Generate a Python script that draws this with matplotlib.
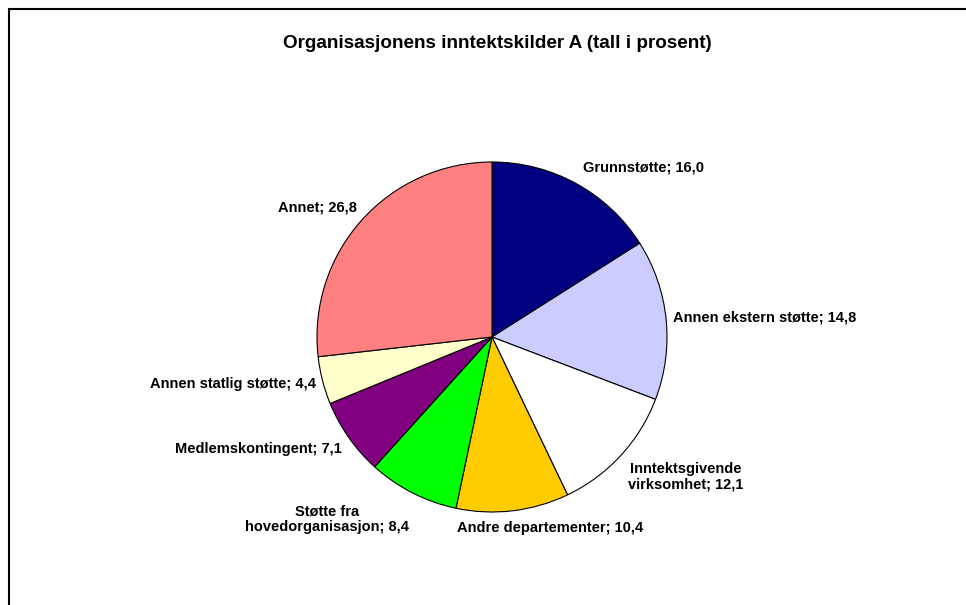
# pie chart: organisasjonens inntektskilder

import matplotlib.pyplot as plt
from matplotlib.patches import Rectangle

plt.rcParams['font.family'] = ['Liberation Sans', 'DejaVu Sans']

categories = ['Grunnstøtte', 'Annen ekstern støtte', 'Inntektsgivende\nvirksomhet',
              'Andre departementer', 'Støtte fra\nhovedorganisasjon', 'Medlemskontingent',
              'Annen statlig støtte', 'Annet']
values = [16.0, 14.8, 12.1, 10.4, 8.4, 7.1, 4.4, 26.8]
colors = ['#000080', '#CCCCFF', '#FFFFFF', '#FFCC00', '#00FF00', '#800080', '#FFFFCC', '#FF8080']

W, H = 966, 605
cx, cy, R = 492, 337, 175

# label anchor points (pixels from top-left) and alignment
label_pos = [(583, 168, 'left'), (673, 318, 'left'), (686, 477, 'center'),
             (550, 528, 'center'), (327, 519, 'center'), (342, 449, 'right'),
             (316, 384, 'right'), (357, 207, 'right')]

fig = plt.figure(figsize=(W / 100, H / 100), dpi=100)
ax = fig.add_axes([0, 0, 1, 1])
ax.set_xlim(0, W)
ax.set_ylim(0, H)
ax.set_aspect('equal')
ax.axis('off')

ax.pie(values, colors=colors, startangle=90, counterclock=False,
       center=(cx, H - cy), radius=R,
       wedgeprops=dict(edgecolor='black', linewidth=0.8))
ax.set_xlim(0, W)
ax.set_ylim(0, H)

for cat, v, (x, y, ha) in zip(categories, values, label_pos):
    txt = f'{cat}; {v:.1f}'.replace('.', ',')
    ax.text(x, H - y, txt, ha=ha, va='center', multialignment='center',
            fontsize=10.5, fontweight='bold', linespacing=1.15)

ax.text(497, H - 44, 'Organisasjonens inntektskilder A (tall i prosent)',
        ha='center', va='center', fontsize=13.6, fontweight='bold')

# chart frame (cut off at right and bottom)
fig.patches.append(Rectangle((9, -10), W + 10, H - 9 + 10, transform=None,
                             fill=False, edgecolor='black', linewidth=1.5))

fig.savefig('out.png', dpi=100)
